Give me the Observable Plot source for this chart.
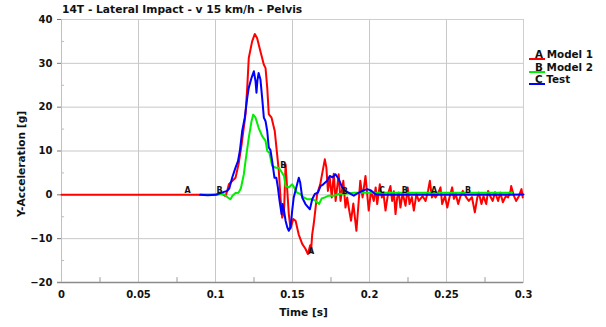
<!DOCTYPE html>
<html>
<head>
<meta charset="utf-8">
<script src="https://cdn.jsdelivr.net/npm/d3@7"></script>
<script src="https://cdn.jsdelivr.net/npm/@observablehq/plot@0.6"></script>
<style>
  html, body { margin: 0; padding: 0; background: #fff; }
  #wrap { position: relative; width: 606px; height: 327px; font-family: "DejaVu Sans", sans-serif; font-weight: bold; color: #111; }
  #title { position: absolute; left: 62px; top: 3px; font-size: 10.7px; white-space: nowrap; }
  #legend { position: absolute; left: 529px; top: 48px; font-size: 10.4px; line-height: 12.5px; }
  .item { position: relative; white-space: nowrap; }
  .sw { position: absolute; left: 0; top: 10px; width: 16px; height: 2px; }
  .item span.t { padding-left: 6px; }
</style>
</head>
<body>
<div id="wrap">
  <div id="chart"></div>
  <div id="title"></div>
  <div id="legend"></div>
</div>
<script>
const titleText = "14T - Lateral Impact - v 15 km/h - Pelvis";
const xLabel = "Time [s]";
const yLabel = "Y-Acceleration [g]";
const seriesNames = ["A Model 1", "B Model 2", "C Test"];
const seriesColors = ["#ff0000", "#00ee00", "#0000ff"];
const xTicks = [0, 0.05, 0.1, 0.15, 0.2, 0.25, 0.3];
const xTickLabels = ["0", "0.05", "0.1", "0.15", "0.2", "0.25", "0.3"];
const xMinorTicks = [0.025, 0.075, 0.125, 0.175, 0.225, 0.275];
const yTicks = [-20, -10, 0, 10, 20, 30, 40];
const yMinorTicks = [-15, -5, 5, 15, 25, 35];

// Model 1 (red)
const m1T = [0, 0.100, 0.104, 0.1065, 0.1076, 0.1087, 0.111, 0.113, 0.115, 0.117, 0.1195, 0.1206, 0.1216, 0.1238, 0.1255, 0.127, 0.1292, 0.1314, 0.1325, 0.1336, 0.1346, 0.1364, 0.1385, 0.140, 0.1411, 0.1422, 0.1433, 0.1445, 0.1455, 0.1462, 0.1476, 0.1487, 0.1505, 0.152, 0.154, 0.1563, 0.1584, 0.160, 0.1615, 0.162, 0.1628, 0.1638, 0.165, 0.166, 0.168, 0.170, 0.171, 0.172, 0.173, 0.1742, 0.1755, 0.1768, 0.178, 0.180, 0.1812, 0.183, 0.1844, 0.1855, 0.1868, 0.188, 0.1895, 0.1915, 0.193, 0.194, 0.1955, 0.1974, 0.1985, 0.1995, 0.201, 0.2028, 0.204, 0.205, 0.2067, 0.208, 0.209, 0.2104, 0.212, 0.2136, 0.2147, 0.2158, 0.2169, 0.218, 0.219, 0.2201, 0.2215, 0.2234, 0.2248, 0.226, 0.2275, 0.2288, 0.2305, 0.232, 0.2345, 0.2364, 0.238, 0.2392, 0.2405, 0.2418, 0.2429, 0.2445, 0.2461, 0.2472, 0.249, 0.2505, 0.252, 0.2537, 0.2548, 0.256, 0.2576, 0.259, 0.2606, 0.2625, 0.2645, 0.2665, 0.2684, 0.270, 0.271, 0.2727, 0.274, 0.2758, 0.277, 0.2785, 0.280, 0.2815, 0.2835, 0.285, 0.2866, 0.2885, 0.290, 0.2916, 0.292, 0.2937, 0.2952, 0.297, 0.2987, 0.2995];
const m1Y = [0, 0, 0.3, -0.3, 0.9, 2.4, 3.2, 3.9, 7, 11.6, 18.4, 24.4, 31.2, 35, 36.7, 35.8, 32.7, 29.7, 28.9, 24.4, 18.4, 17.6, 14.5, 9.3, 5.5, -0.6, -5.2, -4, 7, 3.2, -4.4, -7.7, -5.5, -5.9, -9, -11.2, -12.3, -13.5, -11.5, -13, -9, -6.6, -2.9, 0.2, 2.4, 6.2, 8.1, 6.2, 0.9, 3.9, -0.6, 4.8, -1.4, 4.7, -1.4, 3.2, -2.9, -0.6, -3.5, -5.9, -2, -8.2, -1.4, 3.2, -0.6, 4.3, 0.2, -3.6, 0.9, -1.4, 1.7, -2.1, 2.4, -0.6, 0.5, -3.6, 0.2, 2, -1.4, 0.8, -4.4, -0.6, 0.5, -2.9, 0.4, -2.5, 1.7, -2.1, -0.5, -3.6, 0.2, -1.4, -0.3, -1.4, 0.9, 3.2, -0.6, 0.1, -0.6, 0.3, 1.7, -2.1, -0.3, -2.9, -0.5, 1.7, -0.9, 0.2, -2.1, -0.4, 0.9, -0.4, -1.4, -0.5, -4, -0.6, 0.5, -2.1, -0.3, -2.1, 0.9, -0.4, -1.4, 0.6, -1.4, 0.5, -1.7, -0.3, -0.6, 0.9, 2, -0.2, -1.4, -0.3, 1.3, -0.6];

// Model 2 (green)
const m2T = [0.090, 0.100, 0.104, 0.106, 0.108, 0.1097, 0.111, 0.113, 0.115, 0.1165, 0.1184, 0.1195, 0.1216, 0.1234, 0.1245, 0.126, 0.128, 0.1303, 0.1325, 0.1336, 0.135, 0.1368, 0.139, 0.1411, 0.1433, 0.1445, 0.1455, 0.1476, 0.1498, 0.151, 0.153, 0.155, 0.1573, 0.1595, 0.1628, 0.165, 0.1672, 0.169, 0.171, 0.1735, 0.1768, 0.180, 0.1855, 0.19, 0.2, 0.25, 0.2926];
const m2Y = [0, 0, 0.2, 0, -0.6, -1, -0.2, 0.4, 0.5, 1.5, 4.7, 7.7, 13, 16.8, 18.3, 17.6, 15.3, 13.4, 12.3, 10, 9.6, 6.6, 6.2, 6.2, 5, 4.3, 2, 1.7, 2.4, 1.7, 0.5, 0.2, -0.6, -1, -1, -1.4, -2.1, -0.8, -0.6, -0.2, -0.2, 0.2, 0.3, 0.5, 0.5, 0.5, 0.5];

// Test (blue)
const tsT = [0.090, 0.095, 0.100, 0.104, 0.1076, 0.109, 0.1108, 0.113, 0.1146, 0.1158, 0.1173, 0.119, 0.1206, 0.1216, 0.1234, 0.1249, 0.126, 0.1266, 0.1272, 0.128, 0.1292, 0.1303, 0.1314, 0.1325, 0.1336, 0.1346, 0.1357, 0.1368, 0.1383, 0.1395, 0.1405, 0.1416, 0.1429, 0.1436, 0.1445, 0.1455, 0.1466, 0.1476, 0.1487, 0.1498, 0.1508, 0.153, 0.1541, 0.155, 0.1563, 0.1584, 0.1613, 0.1628, 0.1645, 0.1665, 0.1682, 0.170, 0.1725, 0.1742, 0.176, 0.1779, 0.180, 0.1823, 0.1844, 0.1877, 0.1898, 0.192, 0.1953, 0.1985, 0.201, 0.2039, 0.207, 0.25, 0.29, 0.3];
const tsY = [0, -0.1, 0, 0.5, 0.9, 1.5, 3.9, 6.2, 7.7, 10, 14.5, 17.6, 22.1, 24.4, 26.7, 28.2, 25.9, 23.3, 26, 27.8, 26.3, 22.1, 17.6, 16.8, 14.5, 10.8, 10.2, 7.7, 3.9, 3.9, 1.7, -1.4, -4.4, -2.1, -3.6, -5.9, -7.4, -8.2, -7.4, -3.6, -0.6, 2.4, 3.9, 2.8, -0.6, -2.1, -3.3, -1, 0.2, 0.5, 2, 2.4, 3.2, 4.3, 4, 4.7, 3.6, 1.7, 0.9, 0.2, -0.2, 0.3, 0.9, 1.3, 1, 0.15, 0, 0, 0, 0.1];

// curve marker letters
const markL = ["A", "B", "B", "A", "B", "C", "B", "A", "B"];
const markT = [0.0818, 0.1026, 0.144, 0.162, 0.184, 0.208, 0.223, 0.242, 0.264];
const markY = [0.9, 1.1, 6.8, -13, 0.7, 1.1, 1.1, 0.9, 1.1];

const toRows = (T, Y, s) => T.map((t, i) => ({t, y: Y[i], s}));
const rows = [
  ...toRows(m1T, m1Y, seriesNames[0]),
  ...toRows(m2T, m2Y, seriesNames[1]),
  ...toRows(tsT, tsY, seriesNames[2])
];
const marks = markL.map((l, i) => ({l, t: markT[i], y: markY[i]}));

const chart = Plot.plot({
  width: 606,
  height: 327,
  marginLeft: 61,
  marginRight: 83,
  marginTop: 19,
  marginBottom: 45,
  style: {fontFamily: "DejaVu Sans, sans-serif", fontWeight: "bold", fontSize: "10px", color: "#111", background: "#fff"},
  x: {type: "linear", domain: [0, 0.3]},
  y: {type: "linear", domain: [-20, 40]},
  color: {domain: seriesNames, range: seriesColors},
  marks: [
    Plot.gridX(xTicks, {stroke: "#c8c8c8", strokeOpacity: 1}),
    Plot.gridY(yTicks, {stroke: "#c8c8c8", strokeOpacity: 1}),
    Plot.frame({stroke: "#cfcfcf"}),
    Plot.ruleX(xMinorTicks, {x: d => d, y1: -20, y2: -18.9, stroke: "#999"}),
    Plot.ruleY(yMinorTicks, {y: d => d, x1: 0, x2: 0.002, stroke: "#bbb"}),
    Plot.axisX(xTicks, {tickSize: 0, tickPadding: 8, tickFormat: (d, i) => xTickLabels[i], label: null, fill: "#111"}),
    Plot.axisY(yTicks, {tickSize: 4, tickPadding: 5, stroke: "#777", label: null, fill: "#111"}),
    Plot.ruleY([-20], {x1: -0.0026, x2: 0.3, stroke: "#8a8a8a", strokeWidth: 1.5, clip: false}),
    Plot.ruleX([0], {stroke: "#c0c0c0"}),
    Plot.line(rows, {x: "t", y: "y", z: "s", stroke: "s", strokeWidth: 2, curve: "linear"}),
    Plot.text(marks, {x: "t", y: "y", text: "l", fontSize: 8, fontWeight: "bold", fill: "#111"}),
    Plot.text([xLabel], {frameAnchor: "bottom", dx: 11, dy: 33, fontSize: 10.6, fontWeight: "bold", fill: "#111"}),
    Plot.text([yLabel], {frameAnchor: "left", textAnchor: "middle", dx: -40, dy: 13, rotate: -90, fontSize: 10.6, fontWeight: "bold", fill: "#111"})
  ]
});
document.getElementById("chart").appendChild(chart);
document.getElementById("title").textContent = titleText;

const leg = document.getElementById("legend");
seriesNames.forEach((n, i) => {
  const it = document.createElement("div");
  it.className = "item";
  const sw = document.createElement("div");
  sw.className = "sw";
  sw.style.background = seriesColors[i];
  const t = document.createElement("span");
  t.className = "t";
  t.textContent = n;
  it.appendChild(sw);
  it.appendChild(t);
  leg.appendChild(it);
});
</script>
</body>
</html>
